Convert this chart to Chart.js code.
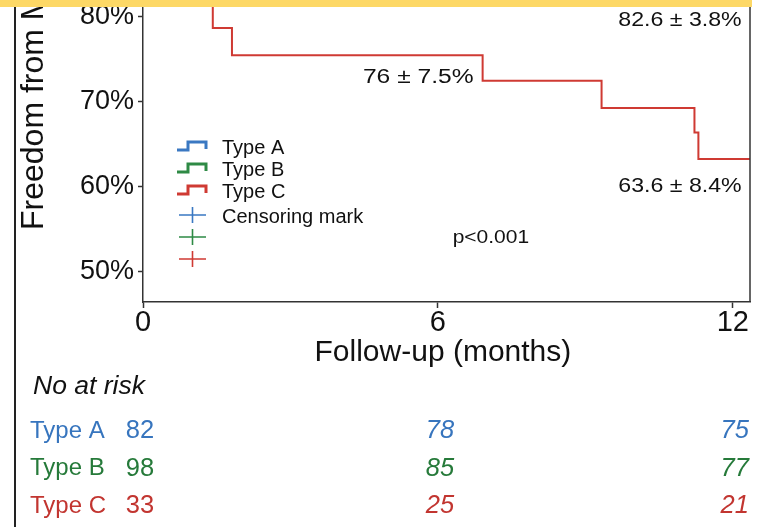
<!DOCTYPE html>
<html>
<head>
<meta charset="utf-8">
<script src="https://cdn.jsdelivr.net/npm/chart.js@4"></script>
<style>
    html, body { margin: 0; padding: 0; background: #fff; }
    #wrap { position: relative; width: 761px; height: 527px; overflow: hidden; }
    #band { position: absolute; left: 0; top: 0; width: 752px; height: 7px; background: #fdd866; }
</style>
</head>
<body>
<div id="wrap">
    <canvas id="km" width="761" height="527"></canvas>
    <div id="band"></div>
</div>
<script>
// groups and colours
const groups = ["Type A", "Type B", "Type C"];
const lineColors = ["#3a78c2", "#2e8a45", "#cf3a33"];
const tableColors = ["#3775be", "#267a3a", "#c23530"];

// Kaplan-Meier steps (months, % free); only Type C is inside the visible window
const typeAMonths = [];
const typeAFreedom = [];
const typeBMonths = [];
const typeBFreedom = [];
const typeCMonths = [0, 1.42, 1.81, 6.91, 9.33, 11.22, 11.3, 12.35];
const typeCFreedom = [100, 78.7, 75.5, 72.5, 69.3, 66.4, 63.3, 63.3];

// axes
const xTicks = [0, 6, 12];
const yTicks = [50, 60, 70, 80];

// numbers at risk at 0, 6 and 12 months
const atRiskA = [82, 78, 75];
const atRiskB = [98, 85, 77];
const atRiskC = [33, 25, 21];

// text notes inside the plot
const notes = ["82.6 \u00b1 3.8%", "76 \u00b1 7.5%", "63.6 \u00b1 8.4%", "p<0.001"];
const noteMonths = [12.18, 5.6, 12.18, 6.3];
const noteFreedom = [79.6, 72.9, 60.0, 54.0];
const noteAlign = ["right", "center", "right", "left"];

const FONT = "'Liberation Sans', Arial, Helvetica, sans-serif";
Chart.defaults.font.family = FONT;
Chart.defaults.color = "#111";

function toPoints(months, values) {
    return months.map((m, i) => ({ x: m, y: values[i] }));
}

const kmDecor = {
    id: "kmDecor",
    afterDraw(chart) {
        const ctx = chart.ctx;
        const area = chart.chartArea;
        const xs = chart.scales.x;
        const ys = chart.scales.y;

        ctx.save();
        ctx.strokeStyle = "#333";
        ctx.lineWidth = 1.5;
        // right side of the plot box
        ctx.beginPath();
        ctx.moveTo(area.right, area.top);
        ctx.lineTo(area.right, area.bottom);
        ctx.stroke();
        // page frame on the left
        ctx.strokeStyle = "#222";
        ctx.lineWidth = 2;
        ctx.beginPath();
        ctx.moveTo(15, 0);
        ctx.lineTo(15, chart.height);
        ctx.stroke();

        // notes (a little wider than tall, as in the source)
        ctx.fillStyle = "#111";
        ctx.textBaseline = "middle";
        notes.forEach((t, i) => {
            ctx.save();
            ctx.translate(xs.getPixelForValue(noteMonths[i]), ys.getPixelForValue(noteFreedom[i]));
            ctx.scale(1.2, 1);
            ctx.font = (i === 3 ? "17.5px " : i === 1 ? "20.5px " : "19.3px ") + FONT;
            ctx.textAlign = noteAlign[i];
            ctx.fillText(t, 0, 0);
            ctx.restore();
        });

        // legend
        const lx = area.left + 34;
        ctx.font = "20px " + FONT;
        ctx.textAlign = "left";
        groups.forEach((g, i) => {
            const yc = 146 + i * 22;
            ctx.strokeStyle = lineColors[i];
            ctx.lineWidth = 3;
            ctx.beginPath();
            ctx.moveTo(lx, yc + 4);
            ctx.lineTo(lx + 11, yc + 4);
            ctx.lineTo(lx + 11, yc - 4);
            ctx.lineTo(lx + 29, yc - 4);
            ctx.lineTo(lx + 29, yc + 3);
            ctx.stroke();
            ctx.fillStyle = "#111";
            ctx.fillText(g, lx + 45, yc + 2);

            const yk = 215 + i * 22;
            ctx.lineWidth = 1.6;
            ctx.beginPath();
            ctx.moveTo(lx + 2, yk);
            ctx.lineTo(lx + 29, yk);
            ctx.moveTo(lx + 15.5, yk - 8);
            ctx.lineTo(lx + 15.5, yk + 8);
            ctx.stroke();
        });
        ctx.fillText("Censoring mark", lx + 45, 217);

        // x title
        ctx.font = "30px " + FONT;
        ctx.textAlign = "center";
        ctx.fillText("Follow-up (months)", xs.getPixelForValue(6) + 5, area.bottom + 51);

        // y title
        ctx.save();
        ctx.font = "32px " + FONT;
        ctx.translate(43, area.bottom - 72);
        ctx.rotate(-Math.PI / 2);
        ctx.textAlign = "left";
        ctx.textBaseline = "alphabetic";
        ctx.fillText("Freedom from MACE", 0, 0);
        ctx.restore();

        // numbers at risk
        ctx.textAlign = "left";
        ctx.font = "italic 26.5px " + FONT;
        ctx.fillText("No at risk", 33, area.bottom + 85);
        [atRiskA, atRiskB, atRiskC].forEach((row, i) => {
            const yr = area.bottom + 129 + i * 37.5;
            ctx.fillStyle = tableColors[i];
            ctx.textAlign = "left";
            ctx.font = "24px " + FONT;
            ctx.fillText(groups[i], 30, yr);
            row.forEach((n, j) => {
                ctx.textAlign = "center";
                ctx.font = (j === 0 ? "" : "italic ") + "25.5px " + FONT;
                ctx.fillText(String(n), xs.getPixelForValue(xTicks[j]) + (j === 0 ? -3 : 2), yr);
            });
        });
        ctx.restore();
    }
};

new Chart(document.getElementById("km"), {
    type: "line",
    data: {
        datasets: [
            { label: groups[0], data: toPoints(typeAMonths, typeAFreedom), borderColor: lineColors[0] },
            { label: groups[1], data: toPoints(typeBMonths, typeBFreedom), borderColor: lineColors[1] },
            { label: groups[2], data: toPoints(typeCMonths, typeCFreedom), borderColor: lineColors[2] }
        ].map(d => Object.assign(d, { stepped: true, borderWidth: 2, pointRadius: 0, fill: false }))
    },
    options: {
        responsive: false,
        animation: false,
        events: [],
        layout: { padding: { left: 0, right: 11, top: 0, bottom: 0 } },
        plugins: { legend: { display: false }, tooltip: { enabled: false } },
        scales: {
            x: {
                type: "linear",
                min: 0,
                max: 12.35,
                afterBuildTicks: s => { s.ticks = xTicks.map(v => ({ value: v })); },
                afterFit: s => { s.height = 225; s.paddingLeft = 0; s.paddingRight = 0; },
                ticks: { font: { size: 29, lineHeight: 1 }, padding: 0, maxRotation: 0, color: "#111" },
                grid: { drawOnChartArea: false, tickLength: 6, color: "#333", tickWidth: 1.5 },
                border: { color: "#333", width: 1.5 }
            },
            y: {
                min: 46.47,
                max: 82.0,
                afterBuildTicks: s => { s.ticks = yTicks.map(v => ({ value: v })); },
                afterFit: s => { s.width = 143; s.paddingTop = 0; s.paddingBottom = 0; },
                ticks: { font: { size: 27 }, padding: 4, color: "#111", callback: v => v + "%" },
                grid: { drawOnChartArea: false, tickLength: 5, color: "#333", tickWidth: 1.5 },
                border: { color: "#333", width: 1.5 }
            }
        }
    },
    plugins: [kmDecor]
});
</script>
</body>
</html>
